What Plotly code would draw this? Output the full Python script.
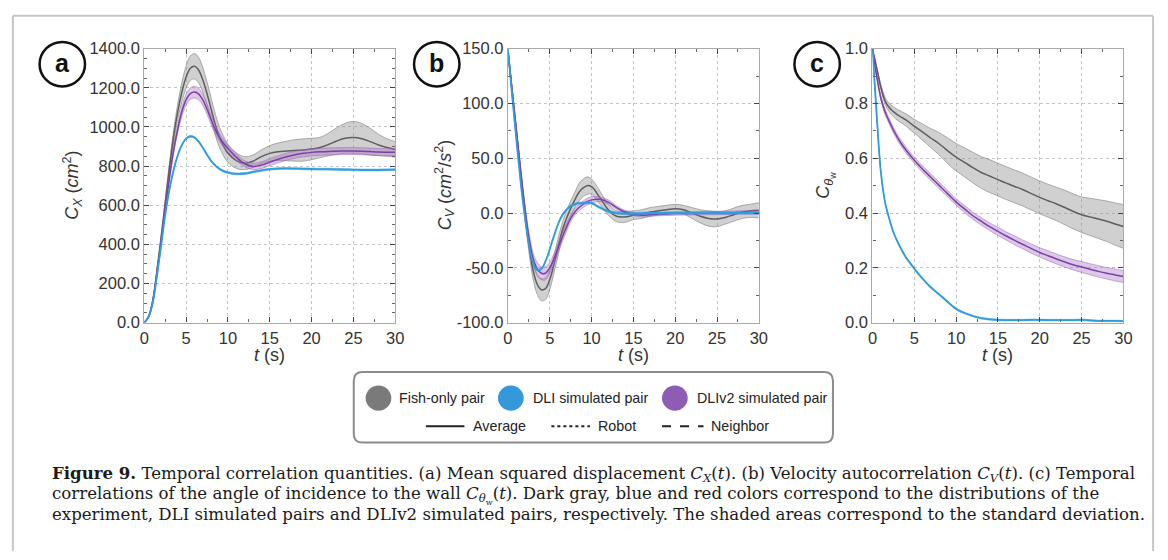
import plotly.graph_objects as go

W, H = 1168, 560


def px(x):
    return x / W


def py(y):
    return 1 - y / H


# ---------------- data ----------------
T = [0, 0.5, 1, 1.5, 2, 2.5, 3, 3.5, 4, 4.5, 5, 5.5, 6, 6.5, 7, 7.5, 8, 8.5, 9, 9.5, 10,
     11, 12, 13, 14, 15, 16, 17, 18, 19, 20, 21, 22, 23, 24, 25, 26, 27, 28, 29, 30]

# (a) mean squared displacement C_X (cm^2)
cx_fish = [0, 30, 110, 260, 430, 610, 790, 950, 1080, 1180, 1255, 1300, 1310, 1290, 1240, 1170, 1090, 1010, 945, 900, 865,
           828, 815, 825, 848, 865, 873, 877, 880, 882, 887, 895, 910, 928, 942, 946, 940, 925, 908, 895, 885]
cx_fish_sd = [0, 3, 8, 12, 15, 20, 25, 32, 40, 50, 58, 63, 65, 65, 63, 60, 57, 55, 52, 50, 47,
              40, 33, 32, 35, 40, 45, 50, 55, 57, 55, 52, 58, 68, 77, 82, 78, 68, 55, 45, 40]
cx_dli = [0, 28, 100, 235, 390, 550, 680, 780, 855, 908, 940, 952, 946, 925, 893, 858, 826, 802, 785, 774, 767,
          760, 762, 770, 778, 784, 787, 788, 787, 786, 785, 784, 784, 783, 782, 781, 780, 780, 780, 781, 782]
cx_dli_sd = [0, 2, 3, 4, 5, 5, 5, 5, 5, 5, 5, 5, 5, 5, 5, 5, 5, 5, 5, 5, 5,
             5, 5, 5, 5, 5, 5, 5, 5, 5, 5, 5, 5, 5, 5, 5, 5, 5, 5, 5, 5]
cx_dli2 = [0, 28, 105, 250, 410, 580, 740, 880, 990, 1080, 1140, 1170, 1178, 1168, 1138, 1090, 1035, 985, 945, 915, 890,
           845, 812, 798, 805, 820, 835, 848, 858, 865, 870, 873, 875, 876, 877, 877, 876, 874, 872, 871, 870]
cx_dli2_sd = [0, 2, 5, 8, 10, 12, 15, 18, 22, 25, 28, 30, 30, 30, 28, 26, 24, 22, 20, 19, 18,
              17, 16, 16, 17, 18, 18, 18, 18, 18, 18, 18, 18, 18, 18, 18, 18, 18, 18, 18, 18]

# (b) velocity autocorrelation C_V (cm^2/s^2)
cv_fish = [148, 112, 75, 38, 3, -28, -52, -65, -70, -69, -61, -47, -31, -16, -5, 4, 12, 19, 23, 25, 24,
           14, 3, -3, -3.5, -2, -1, 1, 2, 3, 4, 3, 0, -3, -5, -5.5, -4, -1.5, 1, 2, 2.5]
cv_fish_sd = [2, 3, 4, 5, 6, 7, 8, 9, 10, 10, 9, 8, 8, 7, 7, 7, 7, 8, 8, 8, 7,
              6, 5, 5, 5, 4, 4, 4, 4, 4, 4, 4, 5, 6, 7, 7, 6, 6, 6, 6, 7]
cv_dli = [150, 108, 68, 30, -2, -28, -45, -52, -51, -44, -33, -21, -10, -2, 3, 6.5, 8, 9, 9, 9.5, 9,
          5, 1.5, 0, -0.5, -0.5, -0.3, 0, 0, 0, 0, 0, 0, 0, 0, 0, 0, 0, 0, 0, 0]
cv_dli_sd = [1] * 41
cv_dli2 = [148, 112, 76, 40, 6, -22, -41, -51, -55, -55, -50, -42, -32, -22, -13, -5, 1, 5, 8, 10.5, 12,
           12.5, 10, 5, 1, -1, -2, -1.5, -1, -0.8, -0.5, -0.4, -0.3, -0.2, 0, 0, 0.2, 0.3, 0.5, 0.5, 0.5]
cv_dli2_sd = [2, 2, 3, 3, 4, 5, 5, 6, 6, 6, 5, 5, 4, 4, 4, 3, 3, 3, 3, 3, 3,
              2, 2, 1.5, 1.5, 1.5, 1.5, 1.5, 1.5, 1.5, 1.5, 1.5, 1.5, 1.5, 1.5, 1.5, 1.5, 1.5, 1.5, 1.5, 1.5]

# (c) temporal correlation of the angle of incidence to the wall
ct_fish = [1.0, 0.93, 0.86, 0.81, 0.785, 0.77, 0.758, 0.749, 0.74, 0.728, 0.717, 0.706, 0.695, 0.684, 0.673, 0.663,
           0.652, 0.64, 0.627, 0.615, 0.604, 0.585, 0.566, 0.548, 0.535, 0.522, 0.509, 0.497, 0.485, 0.471, 0.457,
           0.445, 0.433, 0.42, 0.406, 0.394, 0.386, 0.378, 0.37, 0.36, 0.351]
ct_fish_sd = [0, 0.005, 0.01, 0.013, 0.015, 0.018, 0.02, 0.021, 0.022, 0.024, 0.025, 0.027, 0.03, 0.032, 0.035,
              0.038, 0.041, 0.044, 0.047, 0.049, 0.05, 0.053, 0.056, 0.058, 0.06, 0.06, 0.06, 0.06, 0.06, 0.06,
              0.06, 0.06, 0.061, 0.063, 0.064, 0.065, 0.068, 0.071, 0.074, 0.077, 0.08]
ct_dli = [1.0, 0.76, 0.55, 0.44, 0.38, 0.33, 0.295, 0.265, 0.238, 0.217, 0.197, 0.178, 0.16, 0.143, 0.128, 0.115,
          0.102, 0.089, 0.075, 0.062, 0.05, 0.035, 0.024, 0.016, 0.012, 0.01, 0.009, 0.009, 0.009, 0.01, 0.01,
          0.009, 0.009, 0.009, 0.009, 0.01, 0.008, 0.006, 0.006, 0.006, 0.005]
ct_dli_sd = [0.003] * 41
ct_dli2 = [1.0, 0.9, 0.82, 0.77, 0.735, 0.703, 0.675, 0.651, 0.63, 0.611, 0.593, 0.576, 0.56, 0.545, 0.53, 0.515,
           0.5, 0.485, 0.47, 0.455, 0.44, 0.415, 0.39, 0.37, 0.35, 0.333, 0.316, 0.3, 0.285, 0.27, 0.256,
           0.244, 0.232, 0.221, 0.211, 0.203, 0.195, 0.187, 0.18, 0.174, 0.168]
ct_dli2_sd = [0, 0.005, 0.008, 0.01, 0.01, 0.01, 0.011, 0.011, 0.011, 0.011, 0.011, 0.011, 0.012, 0.012, 0.012,
              0.012, 0.012, 0.012, 0.012, 0.012, 0.012, 0.013, 0.013, 0.014, 0.014, 0.015, 0.015, 0.016, 0.016,
              0.017, 0.017, 0.018, 0.018, 0.019, 0.019, 0.02, 0.02, 0.021, 0.021, 0.022, 0.022]

# tick labels
cx_ticks = [0, 200, 400, 600, 800, 1000, 1200, 1400]
cx_ticklabels = ["0.0", "200.0", "400.0", "600.0", "800.0", "1000.0", "1200.0", "1400.0"]
cv_ticks = [-100, -50, 0, 50, 100, 150]
cv_ticklabels = ["-100.0", "-50.0", "0.0", "50.0", "100.0", "150.0"]
ct_ticks = [0, 0.2, 0.4, 0.6, 0.8, 1.0]
ct_ticklabels = ["0.0", "0.2", "0.4", "0.6", "0.8", "1.0"]
t_ticks = [0, 5, 10, 15, 20, 25, 30]

series_names = ["Fish-only pair", "DLI simulated pair", "DLIv2 simulated pair"]
style_names = ["Average", "Robot", "Neighbor"]

# ---------------- styles ----------------
SANS = "Liberation Sans, Arial, Helvetica, sans-serif"
SERIF = "DejaVu Serif, Liberation Serif, serif"
GRAY_L, GRAY_F, GRAY_E = "#5e5e5e", "rgba(150,150,150,0.45)", "rgba(120,120,120,0.7)"
BLUE_L, BLUE_F, BLUE_E = "#2f9be0", "rgba(47,155,224,0.35)", "rgba(47,155,224,0.5)"
PURP_L, PURP_F, PURP_E = "#7d3fa8", "rgba(165,110,195,0.38)", "rgba(150,95,185,0.6)"

fig = go.Figure()


def add_series(mean, sd, line_c, fill_c, edge_c, xa, ya, lw):
    up = [m + s for m, s in zip(mean, sd)]
    lo = [m - s for m, s in zip(mean, sd)]
    fig.add_trace(go.Scatter(x=T, y=up, mode="lines", xaxis=xa, yaxis=ya,
                             line=dict(color=edge_c, width=0.8, shape="spline"),
                             hoverinfo="skip", showlegend=False))
    fig.add_trace(go.Scatter(x=T, y=lo, mode="lines", xaxis=xa, yaxis=ya, fill="tonexty",
                             fillcolor=fill_c, line=dict(color=edge_c, width=0.8, shape="spline"),
                             hoverinfo="skip", showlegend=False))
    fig.add_trace(go.Scatter(x=T, y=mean, mode="lines", xaxis=xa, yaxis=ya,
                             line=dict(color=line_c, width=lw, shape="spline"), showlegend=False))


panels = [
    ("x", "y", cx_fish, cx_fish_sd, cx_dli2, cx_dli2_sd, cx_dli, cx_dli_sd),
    ("x2", "y2", cv_fish, cv_fish_sd, cv_dli2, cv_dli2_sd, cv_dli, cv_dli_sd),
    ("x3", "y3", ct_fish, ct_fish_sd, ct_dli2, ct_dli2_sd, ct_dli, ct_dli_sd),
]
for xa, ya, fm, fs, pm, ps, bm, bs in panels:
    add_series(fm, fs, GRAY_L, GRAY_F, GRAY_E, xa, ya, 1.5)
    add_series(pm, ps, PURP_L, PURP_F, PURP_E, xa, ya, 1.5)
    add_series(bm, bs, BLUE_L, BLUE_F, BLUE_E, xa, ya, 1.8)

# ---------------- axes ----------------
plot_x = [(141, 395), (509, 763), (878, 1132)]
plot_top, plot_bot = 41, 324


def common(tvals, ttext, mdtick):
    return dict(tickmode="array", tickvals=tvals, ticktext=ttext,
                ticks="inside", ticklen=5, tickwidth=1.3, tickcolor="#444",
                showline=True, linecolor="#aaaaaa", linewidth=1.3, mirror="allticks",
                showgrid=True, gridcolor="#c4c4c4", griddash="dot", gridwidth=1, zeroline=False,
                tickfont=dict(family=SANS, size=16.5, color="#333"),
                minor=dict(dtick=mdtick, tick0=0, ticks="inside", ticklen=3, tickcolor="#666", tickwidth=1,
                           showgrid=False))


def xaxis(i):
    x0, x1 = plot_x[i]
    d = common(t_ticks, [str(v) for v in t_ticks], 2.5)
    d.update(domain=[px(x0), px(x1)], anchor=["y", "y2", "y3"][i], range=[0, 30])
    return d


def yaxis(i, rng, tv, tt, mdtick):
    d = common(tv, tt, mdtick)
    d.update(domain=[py(plot_bot), py(plot_top)], anchor=["x", "x2", "x3"][i], range=rng)
    return d


fig.update_layout(
    width=W, height=H, margin=dict(l=0, r=0, t=0, b=0),
    paper_bgcolor="white", plot_bgcolor="white", showlegend=False,
    xaxis=xaxis(0), xaxis2=xaxis(1), xaxis3=xaxis(2),
    yaxis=yaxis(0, [0, 1400], cx_ticks, cx_ticklabels, 50),
    yaxis2=yaxis(1, [-100, 150], cv_ticks, cv_ticklabels, 25),
    yaxis3=yaxis(2, [0, 1.0], ct_ticks, ct_ticklabels, 0.1),
)

shapes = []
annotations = []

# outer frame (open at the bottom)
for (xa0, ya0, xa1, ya1) in [(8, 7, 1162, 7), (8, 7, 8, 560), (1162, 7, 1162, 560)]:
    shapes.append(dict(type="line", xref="paper", yref="paper", x0=px(xa0), y0=py(ya0), x1=px(xa1), y1=py(ya1),
                       line=dict(color="#c6c6c6", width=2)))

# axis titles
ytitles = [
    (68, "<i>C<sub>X</sub></i> (<i>cm</i><sup>2</sup>)"),
    (445, "<i>C<sub>V</sub></i> (<i>cm</i><sup>2</sup>/<i>s</i><sup>2</sup>)"),
    (830, "<i>C</i><sub><i>θ</i><sub>w</sub></sub>"),
]
for xpos, txt in ytitles:
    annotations.append(dict(xref="paper", yref="paper", x=px(xpos), y=py((plot_top + plot_bot) / 2),
                            text=txt, textangle=-90, showarrow=False, xanchor="center", yanchor="middle",
                            font=dict(family=SANS, size=18, color="#333")))
for x0, x1 in plot_x:
    annotations.append(dict(xref="paper", yref="paper", x=px((x0 + x1) / 2), y=py(358),
                            text="<i>t</i> (s)", showarrow=False, xanchor="center", yanchor="middle",
                            font=dict(family=SANS, size=18, color="#333")))

# circled panel labels
for cx, cy, lab in [(58, 57, "a"), (437, 57, "b"), (822, 57, "c")]:
    r = 23
    shapes.append(dict(type="circle", xref="paper", yref="paper", x0=px(cx - r), x1=px(cx + r),
                       y0=py(cy + r), y1=py(cy - r), line=dict(color="#111", width=2.5), fillcolor="white"))
    annotations.append(dict(xref="paper", yref="paper", x=px(cx), y=py(cy - 1), text="<b>%s</b>" % lab,
                            showarrow=False, xanchor="center", yanchor="middle",
                            font=dict(family=SANS, size=25, color="#111")))

# legend box (rounded)
bx0, by0, bx1, by1, rr = 353, 375, 838, 448, 9
path = ("M {a},{b} L {c},{b} Q {x1},{b} {x1},{d} L {x1},{e} Q {x1},{y1} {c},{y1} "
        "L {a},{y1} Q {x0},{y1} {x0},{e} L {x0},{d} Q {x0},{b} {a},{b} Z").format(
    a=px(bx0 + rr), b=py(by0), c=px(bx1 - rr), d=py(by0 + rr), e=py(by1 - rr),
    x0=px(bx0), x1=px(bx1), y1=py(by1))
shapes.append(dict(type="path", xref="paper", yref="paper", path=path,
                   line=dict(color="#8c8c8c", width=2), fillcolor="white"))

legend_row1 = [(378, "#7a7a7a", 397), (512, "#3498db", 532), (678, "#8e5bb5", 698)]
for (ccx, col, tx), name in zip(legend_row1, series_names):
    r = 13
    shapes.append(dict(type="circle", xref="paper", yref="paper", x0=px(ccx - r), x1=px(ccx + r),
                       y0=py(402 + r), y1=py(402 - r), line=dict(color=col, width=0), fillcolor=col))
    annotations.append(dict(xref="paper", yref="paper", x=px(tx), y=py(402), text=name, showarrow=False,
                            xanchor="left", yanchor="middle", font=dict(family=SANS, size=14.3, color="#222")))

legend_row2 = [(426, 465, "solid", 472), (553, 592, "dot", 598), (665, 707, "dash", 713)]
for (lx0, lx1, dash, tx), name in zip(legend_row2, style_names):
    shapes.append(dict(type="line", xref="paper", yref="paper", x0=px(lx0), x1=px(lx1), y0=py(431), y1=py(431),
                       line=dict(color="#222", width=2, dash=dash)))
    annotations.append(dict(xref="paper", yref="paper", x=px(tx), y=py(431), text=name, showarrow=False,
                            xanchor="left", yanchor="middle", font=dict(family=SANS, size=14.3, color="#222")))

# caption
caption = [
    "<b>Figure 9.</b> Temporal correlation quantities. (a) Mean squared displacement <i>C<sub>X</sub></i>(<i>t</i>). "
    "(b) Velocity autocorrelation <i>C<sub>V</sub></i>(<i>t</i>). (c) Temporal",
    "correlations of the angle of incidence to the wall <i>C</i><sub><i>θ</i><sub>w</sub></sub>(<i>t</i>). "
    "Dark gray, blue and red colors correspond to the distributions of the",
    "experiment, DLI simulated pairs and DLIv2 simulated pairs, respectively. "
    "The shaded areas correspond to the standard deviation.",
]
for yy, line in zip([480, 503, 522], caption):
    annotations.append(dict(xref="paper", yref="paper", x=px(46), y=py(yy), text=line, showarrow=False,
                            xanchor="left", yanchor="middle", font=dict(family=SERIF, size=16.6, color="#1a1a1a")))

fig.update_layout(shapes=shapes, annotations=annotations)
fig.write_html("out.html")
